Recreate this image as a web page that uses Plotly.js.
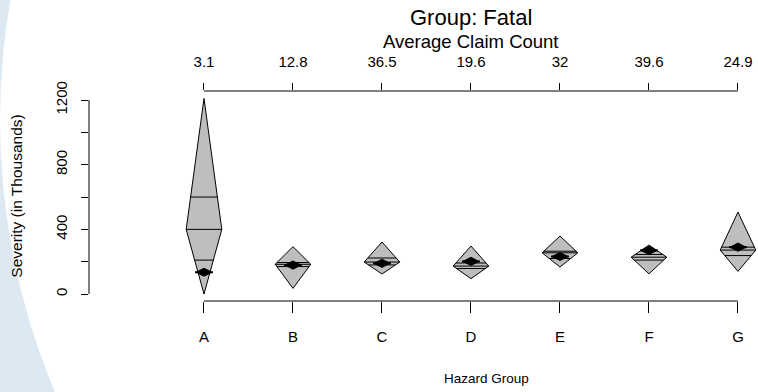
<!DOCTYPE html>
<html>
<head>
<meta charset="utf-8">
<script src="https://cdn.plot.ly/plotly-3.0.1.min.js"></script>
<style>html,body{margin:0;padding:0;background:#fff;}#chart{width:758px;height:392px;}</style>
</head>
<body>
<div id="chart"></div>
<script>
const categories = ['A','B','C','D','E','F','G'];
const claimCounts = ['3.1','12.8','36.5','19.6','32','39.6','24.9'];
const minVals  = [0,    35,  124, 95,  167, 125, 140];
const q1Vals   = [210,  170, 180, 158, 220, 210, 238];
const medVals  = [400,  184, 198, 173, 255, 228, 272];
const q3Vals   = [600,  195, 223, 192, 265, 245, 290];
const maxVals  = [1210, 293, 322, 297, 359, 303, 507];
const meanVals = [135,  179, 190, 202, 232, 270, 290];
const yTickVals = [0, 200, 400, 600, 800, 1000, 1200];
const yTickText = ['0', '', '400', '', '800', '', '1200'];

const W = 0.2;   // half width of diamonds (category units)
const MW = 0.1;  // half width of mean bar
const FONT = 'Liberation Sans, Arial, sans-serif';
const idx = categories.map((c, i) => i);

function halfWidth(i, v) {
  if (v <= medVals[i]) return W * (v - minVals[i]) / (medVals[i] - minVals[i]);
  return W * (maxVals[i] - v) / (maxVals[i] - medVals[i]);
}

const traces = [];
categories.forEach((c, i) => {
  traces.push({
    type: 'scatter', mode: 'lines', xaxis: 'x', yaxis: 'y',
    x: [i, i + W, i, i - W, i],
    y: [maxVals[i], medVals[i], minVals[i], medVals[i], maxVals[i]],
    fill: 'toself', fillcolor: '#bebebe',
    line: {color: '#000', width: 1}, hoverinfo: 'skip', showlegend: false
  });
});
// quartile / median lines
const lx = [], ly = [];
categories.forEach((c, i) => {
  [q1Vals[i], medVals[i], q3Vals[i]].forEach(v => {
    const h = halfWidth(i, v);
    lx.push(i - h, i + h, null); ly.push(v, v, null);
  });
});
traces.push({type: 'scatter', mode: 'lines', x: lx, y: ly,
  line: {color: '#000', width: 1}, hoverinfo: 'skip', showlegend: false});
// mean bars
const mx = [], my = [];
categories.forEach((c, i) => { mx.push(i - MW, i + MW, null); my.push(meanVals[i], meanVals[i], null); });
traces.push({type: 'scatter', mode: 'lines', x: mx, y: my,
  line: {color: '#000', width: 2}, hoverinfo: 'skip', showlegend: false});
// mean markers (on top axis, same range)
traces.push({type: 'scatter', mode: 'markers', xaxis: 'x2', yaxis: 'y',
  x: idx, y: meanVals,
  marker: {symbol: 'diamond-wide', size: 13, color: '#000'}, hoverinfo: 'skip', showlegend: false});

const xRange = [-1.292, 6.225];
const yRange = [-43, 1256];
const n = categories.length;

const layout = {
  width: 758, height: 392,
  margin: {l: 89, r: 0, t: 91, b: 91},
  paper_bgcolor: '#dde9f2',
  plot_bgcolor: 'rgba(0,0,0,0)',
  font: {family: FONT, color: '#000', size: 15},
  showlegend: false,
  xaxis: {
    range: xRange, showgrid: false, zeroline: false, showline: false,
    tickvals: idx, ticktext: categories, ticks: 'outside', ticklen: 11, tickwidth: 1,
    tickcolor: '#000', tickfont: {size: 15, family: FONT}, ticklabelstandoff: 11
  },
  xaxis2: {
    overlaying: 'x', side: 'top', anchor: 'y', range: xRange,
    showgrid: false, zeroline: false, showline: false,
    tickvals: idx, ticktext: claimCounts, ticks: 'outside', ticklen: 7, tickwidth: 1,
    tickcolor: '#000', tickfont: {size: 15, family: FONT}, ticklabelstandoff: 10
  },
  yaxis: {
    range: yRange, showgrid: false, zeroline: false, showline: false,
    tickvals: yTickVals, ticktext: yTickText, ticks: 'outside', ticklen: 7, tickwidth: 1,
    tickcolor: '#000', tickangle: -90, tickfont: {size: 15, family: FONT}, ticklabelstandoff: 8,
    title: {text: 'Severity (in Thousands)', font: {size: 15.5, family: FONT}, standoff: 26}
  },
  shapes: [
    {type: 'circle', xref: 'paper', yref: 'paper', layer: 'below',
     x0: (0 - 89) / 669, x1: (1400 - 89) / 669, y0: (301 - 820) / 210, y1: (301 + 580) / 210,
     fillcolor: '#ffffff', line: {width: 0}},
    {type: 'line', xref: 'paper', yref: 'y', x0: 0, x1: 0,
     y0: yTickVals[0], y1: yTickVals[yTickVals.length - 1], line: {color: '#000', width: 1}},
    {type: 'line', xref: 'x', yref: 'paper', x0: 0, x1: n - 1, y0: 0, y1: 0, line: {color: '#000', width: 1}},
    {type: 'line', xref: 'x', yref: 'paper', x0: 0, x1: n - 1, y0: 1, y1: 1, line: {color: '#000', width: 1}}
  ],
  annotations: [
    {text: 'Group: Fatal', xref: 'x', yref: 'paper', x: (n - 1) / 2, y: 1, yshift: 74,
     showarrow: false, font: {size: 22, family: FONT}, xanchor: 'center', yanchor: 'middle'},
    {text: 'Average Claim Count', xref: 'x', yref: 'paper', x: (n - 1) / 2, y: 1, yshift: 50,
     showarrow: false, font: {size: 18.5, family: FONT}, xanchor: 'center', yanchor: 'middle'},
    {text: 'Hazard Group', xref: 'paper', yref: 'paper', x: (486 - 89) / 669, y: 0, yshift: -77,
     showarrow: false, font: {size: 13.5, family: FONT}, xanchor: 'center', yanchor: 'middle'}
  ]
};

Plotly.newPlot('chart', traces, layout, {staticPlot: true, displayModeBar: false});
</script>
</body>
</html>
